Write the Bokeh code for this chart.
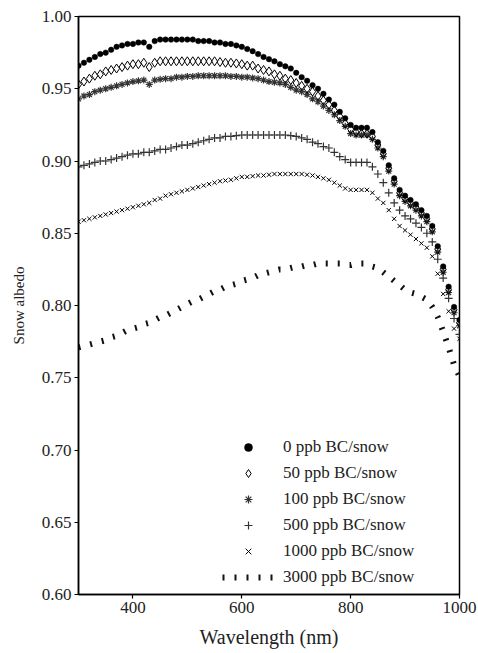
from bokeh.plotting import figure
from bokeh.models import (ColumnDataSource, Legend, LegendItem, FixedTicker,
                          NumeralTickFormatter, Range1d)
from bokeh.embed import file_html
from bokeh.resources import INLINE

wavelength = list(range(300, 1001, 10))

bc_0 = [0.966, 0.968, 0.970, 0.972, 0.974, 0.975, 0.977, 0.979, 0.980, 0.981,
        0.981, 0.982, 0.982, 0.979, 0.983, 0.984, 0.984, 0.984, 0.984, 0.984,
        0.984, 0.984, 0.983, 0.983, 0.983, 0.982, 0.982, 0.981, 0.981, 0.980,
        0.979, 0.9775, 0.976, 0.974, 0.972, 0.9705, 0.969, 0.967, 0.9655, 0.964,
        0.961, 0.958, 0.9555, 0.9525, 0.950, 0.9465, 0.9425, 0.939, 0.934, 0.9295,
        0.925, 0.923, 0.923, 0.923, 0.920, 0.913, 0.907, 0.897, 0.888, 0.880,
        0.876, 0.873, 0.870, 0.866, 0.862, 0.855, 0.841, 0.827, 0.813, 0.799,
        0.790]

bc_50 = [0.953, 0.955, 0.957, 0.959, 0.960, 0.962, 0.963, 0.964, 0.965, 0.966,
         0.967, 0.967, 0.968, 0.965, 0.968, 0.969, 0.969, 0.969, 0.969, 0.969,
         0.969, 0.969, 0.969, 0.969, 0.969, 0.969, 0.9685, 0.968, 0.968, 0.9675,
         0.967, 0.966, 0.966, 0.964, 0.963, 0.962, 0.960, 0.959, 0.957, 0.956,
         0.954, 0.952, 0.950, 0.948, 0.945, 0.942, 0.939, 0.935, 0.931, 0.926,
         0.922, 0.920, 0.919, 0.919, 0.917, 0.911, 0.905, 0.895, 0.886, 0.878,
         0.874, 0.871, 0.868, 0.864, 0.860, 0.853, 0.839, 0.825, 0.811, 0.797,
         0.788]

bc_100 = [0.943, 0.945, 0.946, 0.948, 0.949, 0.950, 0.951, 0.952, 0.953, 0.954,
          0.955, 0.9555, 0.956, 0.953, 0.956, 0.9565, 0.957, 0.957, 0.958, 0.958,
          0.9585, 0.9585, 0.959, 0.959, 0.959, 0.959, 0.959, 0.959, 0.9585, 0.9585,
          0.958, 0.958, 0.9575, 0.957, 0.956, 0.955, 0.9545, 0.954, 0.953, 0.951,
          0.949, 0.948, 0.946, 0.943, 0.941, 0.938, 0.935, 0.932, 0.928, 0.924,
          0.919, 0.918, 0.918, 0.918, 0.915, 0.909, 0.903, 0.893, 0.884, 0.876,
          0.872, 0.869, 0.866, 0.862, 0.858, 0.851, 0.837, 0.823, 0.809, 0.795,
          0.786]

bc_500 = [0.896, 0.897, 0.898, 0.899, 0.900, 0.900, 0.901, 0.902, 0.903, 0.904,
          0.905, 0.905, 0.906, 0.906, 0.907, 0.908, 0.908, 0.909, 0.910, 0.911,
          0.911, 0.912, 0.913, 0.914, 0.915, 0.916, 0.916, 0.917, 0.917, 0.9175,
          0.918, 0.918, 0.918, 0.918, 0.918, 0.918, 0.918, 0.918, 0.918, 0.9175,
          0.917, 0.916, 0.915, 0.913, 0.912, 0.910, 0.909, 0.906, 0.903, 0.901,
          0.899, 0.899, 0.899, 0.899, 0.896, 0.891, 0.885, 0.878, 0.871, 0.866,
          0.862, 0.860, 0.857, 0.854, 0.850, 0.844, 0.832, 0.819, 0.805, 0.791,
          0.780]

bc_1000 = [0.858, 0.859, 0.860, 0.861, 0.862, 0.863, 0.864, 0.865, 0.866, 0.867,
           0.868, 0.869, 0.870, 0.871, 0.873, 0.874, 0.876, 0.877, 0.878, 0.879,
           0.880, 0.881, 0.882, 0.883, 0.884, 0.885, 0.886, 0.8865, 0.887, 0.888,
           0.889, 0.889, 0.8895, 0.890, 0.890, 0.8905, 0.891, 0.891, 0.891, 0.891,
           0.891, 0.891, 0.8905, 0.890, 0.889, 0.888, 0.887, 0.885, 0.883, 0.881,
           0.880, 0.880, 0.880, 0.880, 0.878, 0.874, 0.871, 0.866, 0.860, 0.855,
           0.852, 0.849, 0.846, 0.843, 0.840, 0.834, 0.822, 0.808, 0.796, 0.784,
           0.777]

bc_3000 = [0.771, 0.772, 0.773, 0.774, 0.775, 0.776, 0.778, 0.779, 0.781, 0.783,
           0.784, 0.785, 0.787, 0.788, 0.790, 0.792, 0.793, 0.795, 0.797, 0.799,
           0.801, 0.803, 0.804, 0.806, 0.808, 0.810, 0.811, 0.813, 0.814, 0.815,
           0.817, 0.818, 0.819, 0.821, 0.822, 0.823, 0.824, 0.825, 0.825, 0.826,
           0.827, 0.827, 0.828, 0.828, 0.829, 0.829, 0.829, 0.829, 0.829, 0.828,
           0.828, 0.829, 0.829, 0.829, 0.827, 0.826, 0.823, 0.820, 0.817, 0.814,
           0.811, 0.809, 0.808, 0.806, 0.804, 0.799, 0.792, 0.782, 0.771, 0.759,
           0.751]

labels = ["0 ppb BC/snow", "50 ppb BC/snow", "100 ppb BC/snow",
          "500 ppb BC/snow", "1000 ppb BC/snow", "3000 ppb BC/snow"]
x_ticks = [400, 600, 800, 1000]
y_ticks = [0.60, 0.65, 0.70, 0.75, 0.80, 0.85, 0.90, 0.95, 1.00]

src = ColumnDataSource(dict(wl=wavelength, b0=bc_0, b50=bc_50, b100=bc_100,
                            b500=bc_500, b1000=bc_1000, b3000=bc_3000))

p = figure(width=478, height=653,
           x_range=Range1d(300, 1000), y_range=Range1d(0.60, 1.00),
           output_backend="svg", toolbar_location=None,
           min_border_left=78, min_border_right=19, min_border_top=16,
           min_border_bottom=59)

p.xgrid.visible = False
p.ygrid.visible = False
p.outline_line_color = "black"
p.outline_line_width = 1.5
p.background_fill_color = "white"

SERIF = "Liberation Serif"
for ax in (p.xaxis[0], p.yaxis[0]):
    ax.axis_line_width = 1.5
    ax.axis_line_color = "black"
    ax.major_tick_in = 0
    ax.major_tick_out = 4
    ax.major_tick_line_width = 1.2
    ax.minor_tick_line_color = None
    ax.major_label_text_font = SERIF
    ax.major_label_text_font_size = "17px"
    ax.major_label_text_color = "#222222"
    ax.major_label_standoff = 3
    ax.axis_label_text_font_style = "normal"
    ax.axis_label_text_color = "#222222"

p.xaxis.ticker = FixedTicker(ticks=x_ticks)
p.yaxis.ticker = FixedTicker(ticks=y_ticks)
p.yaxis.formatter = NumeralTickFormatter(format="0.00")

p.xaxis.axis_label = "Wavelength (nm)"
p.xaxis.axis_label_text_font = SERIF
p.xaxis.axis_label_text_font_size = "20px"
p.xaxis.axis_label_standoff = 10

p.yaxis.axis_label = "Snow albedo"
p.yaxis.axis_label_text_font = SERIF
p.yaxis.axis_label_text_font_size = "15px"
p.yaxis.axis_label_standoff = 12

r3000 = p.line("wl", "b3000", source=src, line_color="#111111", line_width=6,
               line_dash="2 10", line_cap="butt")
r3000_dot = p.scatter(x=[], y=[], marker="circle", size=5, fill_color="black",
                      line_color="black")
r1000 = p.scatter("wl", "b1000", source=src, marker="x", size=6,
                  line_color="black", line_width=1)
r500 = p.scatter("wl", "b500", source=src, marker="cross", size=8,
                 line_color="#333333", line_width=1.2)
r100 = p.scatter("wl", "b100", source=src, marker="asterisk", size=7,
                 line_color="#333333", line_width=1.2)
r50 = p.scatter("wl", "b50", source=src, marker="diamond", size=9,
                line_color="black", fill_color=None, line_width=1)
r0 = p.scatter("wl", "b0", source=src, marker="circle", size=5.5,
               fill_color="black", line_color="black", line_width=0.5)

legend = Legend(items=[
    LegendItem(label=labels[0], renderers=[r0]),
    LegendItem(label=labels[1], renderers=[r50]),
    LegendItem(label=labels[2], renderers=[r100]),
    LegendItem(label=labels[3], renderers=[r500]),
    LegendItem(label=labels[4], renderers=[r1000]),
    LegendItem(label=labels[5], renderers=[r3000, r3000_dot]),
], location=(144, 7), border_line_color=None, background_fill_alpha=0,
    padding=0, margin=0, spacing=6, glyph_width=52, glyph_height=20,
    label_height=20, label_standoff=9, label_text_font=SERIF,
    label_text_font_size="17px", label_text_color="#222222")
p.add_layout(legend)

open("out.html", "w").write(file_html(p, INLINE))
